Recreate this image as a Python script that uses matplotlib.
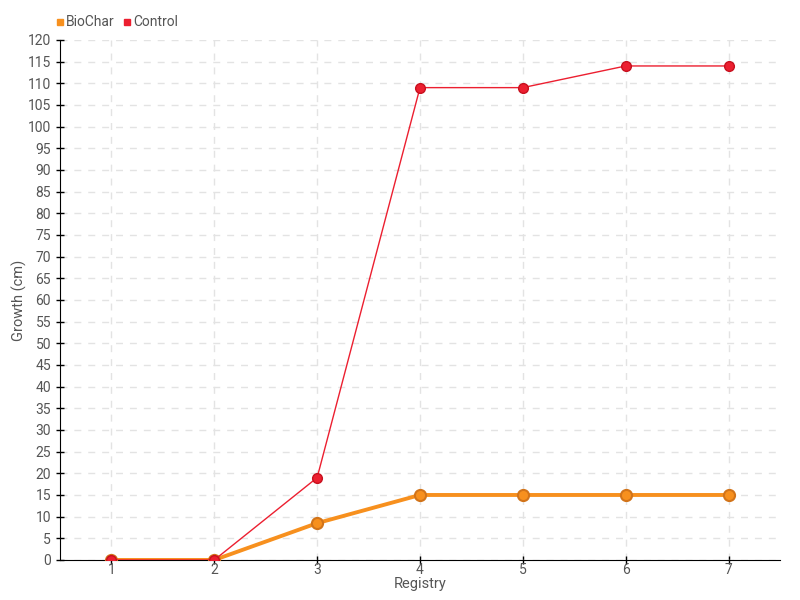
import matplotlib
matplotlib.use("Agg")
import matplotlib.pyplot as plt
from matplotlib.lines import Line2D

# datos
registros = [1, 2, 3, 4, 5, 6, 7]
biochar = [0, 0, 8.5, 15, 15, 15, 15]
control = [0, 0, 19, 109, 109, 114, 114]

c_bio = "#f7901e"
c_ctrl = "#ec1f30"
txt = "#555555"

plt.rcParams['font.family'] = ['Roboto', 'DejaVu Sans']

fig = plt.figure(figsize=(8, 6), dpi=100)
ax = fig.add_axes([0.075, 0.0667, 0.9, 0.8667])

ax.plot(registros, biochar, color=c_bio, lw=2.8, marker="o", ms=8,
        mfc=c_bio, mec="#d2741a", mew=1.5, zorder=3)
ax.plot(registros, control, color=c_ctrl, lw=1, marker="o", ms=7,
        mfc=c_ctrl, mec="#c8101e", mew=1, zorder=4)

ax.set_xlim(0.5, 7.5)
ax.set_ylim(0, 120)
ax.set_xticks(registros)
ax.set_yticks(range(0, 121, 5))

ax.grid(True, linestyle=(0, (5, 5)), color="#e3e3e3", lw=1)
ax.set_axisbelow(True)
for s in ["top", "right"]:
    ax.spines[s].set_visible(False)
ax.spines["left"].set_color("black")
ax.spines["bottom"].set_color("black")
ax.tick_params(axis="both", direction="inout", length=6, width=1,
               colors="black", labelcolor=txt, labelsize=10)
ax.tick_params(axis="x", pad=-1)

ax.set_xlabel("Registry", color=txt, fontsize=10.5, labelpad=0)
ax.set_ylabel("Growth (cm)", color=txt, fontsize=10.5)
ax.yaxis.set_label_coords(-0.046, 0.5)

handles = [Line2D([], [], ls="", marker="s", ms=4.5, color=c_bio),
           Line2D([], [], ls="", marker="s", ms=4.5, color=c_ctrl)]
leg = fig.legend(handles, ["BioChar", "Control"], loc="upper left",
                 bbox_to_anchor=(0.052, 0.995), ncol=2, frameon=False,
                 handletextpad=0.05, columnspacing=0.5, handlelength=0.8,
                 fontsize=10)
for t in leg.get_texts():
    t.set_color(txt)

fig.savefig("out.png", dpi=100)
